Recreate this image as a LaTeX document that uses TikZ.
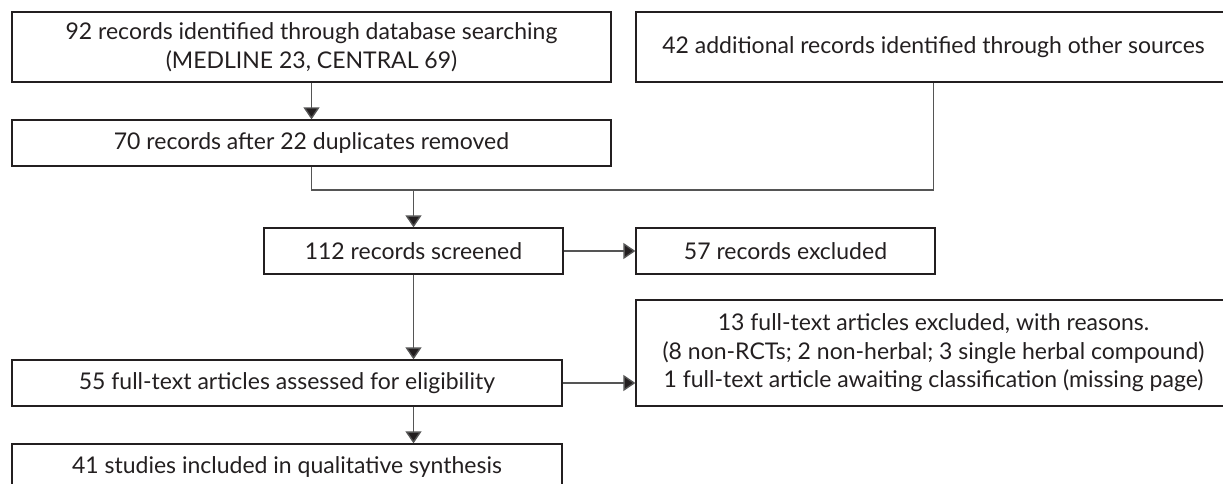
\documentclass[tikz,border=0pt]{standalone}
\usepackage{fontspec}
\setmainfont{Lato}
\usetikzlibrary{arrows.meta}
\definecolor{ink}{HTML}{231F20}
\definecolor{wire}{HTML}{555555}
\begin{document}
\begin{tikzpicture}[x=1pt,y=-1pt,
  box/.style={draw=ink, line width=1.3pt, text=ink, rectangle, inner sep=0pt,
    align=center, font=\fontsize{23}{28.5}\selectfont},
  wireline/.style={draw=wire, line width=1.4pt},
  arr/.style={wireline, -{Triangle[length=12pt,width=16pt,fill=ink]}}]
\useasboundingbox (0,0) rectangle (1223,484);
\clip (0,0) rectangle (1223,484);

% boxes of the flow
\node[box, minimum width=599pt, minimum height=70pt] (found) at (311.5,47)
  {92 records identified through database searching\\(MEDLINE 23, CENTRAL 69)};
\node[box, minimum width=595pt, minimum height=70pt] (other) at (933.5,47)
  {42 additional records identified through other sources};
\node[box, minimum width=599pt, minimum height=46pt] (dedup) at (311.5,143)
  {70 records after 22 duplicates removed};
\node[box, minimum width=299pt, minimum height=46pt] (screen) at (413.5,251)
  {112 records screened};
\node[box, minimum width=299pt, minimum height=46pt] (excl) at (785.5,251)
  {57 records excluded};
\node[box, minimum width=595pt, minimum height=106pt] (ftexcl) at (933.5,353)
  {13 full-text articles excluded, with reasons.\\(8 non-RCTs; 2 non-herbal; 3 single herbal compound)\\1 full-text article awaiting classification (missing page)};
\node[box, minimum width=550pt, minimum height=46pt] (elig) at (287,383)
  {55 full-text articles assessed for eligibility};
\node[box, minimum width=550pt, minimum height=46pt] (incl) at (287,467)
  {41 studies included in qualitative synthesis};

% connectors
\coordinate (join) at (413.5,190);
\draw[arr] (found) -- (dedup);
\draw[wireline] (dedup.south) |- (join) -| (other.south);
\draw[arr] (join) -- (screen);
\draw[arr] (screen) -- (excl);
\draw[arr] (screen.south) -- (screen.south |- elig.north);
\draw[arr] (elig.east) -- (elig.east -| ftexcl.west);
\draw[arr] (elig.south -| screen.south) -- (incl.north -| screen.south);
\end{tikzpicture}
\end{document}
